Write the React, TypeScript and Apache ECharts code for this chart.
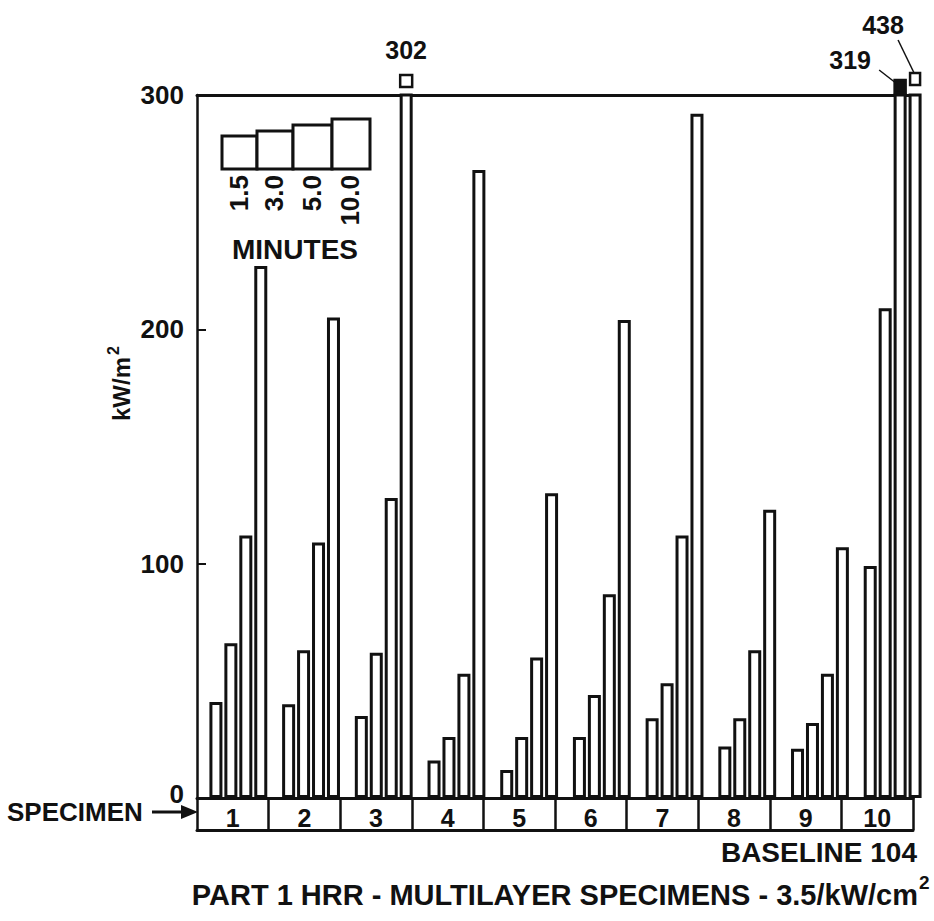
import React, { useEffect, useRef } from "react";
import * as echarts from "echarts";

// ---- data ----
const specimens = ["1", "2", "3", "4", "5", "6", "7", "8", "9", "10"];
const minutes = ["1.5", "3.0", "5.0", "10.0"];
const hrr15 = [41, 40, 35, 16, 12, 26, 34, 22, 21, 99];
const hrr30 = [66, 63, 62, 26, 26, 44, 49, 34, 32, 209];
const hrr50 = [112, 109, 128, 53, 60, 87, 112, 63, 53, 319];
const hrr100 = [227, 205, 302, 268, 130, 204, 292, 123, 107, 438];
const yMin = 0;
const yMax = 300;
const yStep = 100;

const titleText = "PART 1 HRR - MULTILAYER SPECIMENS - 3.5/kW/cm";
const baselineText = "BASELINE 104";
const specimenText = "SPECIMEN";
const unitText = "kW/m";

export default function App() {
  const ref = useRef<HTMLDivElement>(null);

  useEffect(() => {
    if (!ref.current) return;
    const chart = echarts.init(ref.current, null, { renderer: "svg" });
    const ink = "#111";
    const font = "'Liberation Sans', Arial, Helvetica, sans-serif";
    const seriesData = [hrr15, hrr30, hrr50, hrr100];

    chart.setOption({
      animation: false,
      backgroundColor: "#ffffff",
      textStyle: { fontFamily: font },
      grid: [
        { left: 197, right: 21, top: 95, bottom: 123 },
        { left: 202, right: 5, top: 95, bottom: 123 },
      ],
      xAxis: [
        {
          gridIndex: 0,
          type: "category",
          data: specimens,
          position: "bottom",
          axisLine: { lineStyle: { color: ink, width: 3 } },
          axisTick: { show: true, interval: 0, length: 32, lineStyle: { color: ink, width: 2.5 } },
          axisLabel: {
            interval: 0,
            color: ink,
            fontSize: 25,
            fontWeight: "bold",
            fontFamily: font,
            margin: 7,
          },
          splitLine: { show: false },
        },
        {
          gridIndex: 0,
          type: "category",
          data: specimens,
          position: "bottom",
          offset: 32,
          axisLine: { lineStyle: { color: ink, width: 3 } },
          axisTick: { show: false },
          axisLabel: { show: false },
          splitLine: { show: false },
        },
        {
          gridIndex: 0,
          type: "category",
          data: specimens,
          position: "top",
          axisLine: { lineStyle: { color: ink, width: 3 } },
          axisTick: { show: false },
          axisLabel: { show: false },
          splitLine: { show: false },
        },
        { gridIndex: 1, type: "category", data: specimens, show: false },
      ],
      yAxis: [
        {
          gridIndex: 0,
          type: "value",
          min: yMin,
          max: yMax,
          interval: yStep,
          axisLine: { show: true, lineStyle: { color: ink, width: 2.5 } },
          axisTick: { show: true, inside: true, length: 9, lineStyle: { color: ink, width: 2 } },
          axisLabel: {
            color: ink,
            fontSize: 26,
            fontWeight: "bold",
            fontFamily: font,
            margin: 13,
            formatter: (v: number) => (v === 0 ? "{z|0}" : String(v)),
            rich: {
              z: {
                fontSize: 26,
                fontWeight: "bold",
                fontFamily: font,
                color: ink,
                padding: [0, 0, 8, 0],
              },
            },
          },
          splitLine: { show: false },
        },
        {
          gridIndex: 1,
          type: "value",
          min: yMin,
          max: yMax,
          interval: yStep,
          show: false,
          splitLine: { show: false },
        },
      ],
      series: seriesData.map((d, k) => ({
        type: "bar",
        name: minutes[k],
        xAxisIndex: 3,
        yAxisIndex: 1,
        data: d,
        barWidth: 13,
        barGap: "15%",
        clip: true,
        silent: true,
        itemStyle: { color: "#ffffff", borderColor: ink, borderWidth: 3 },
      })),
    });

    // ---- annotations, placed through the chart's own scales ----
    const g: any[] = [];
    const txt = (text: string, x: number, y: number, size: number, align = "left", extra: any = {}) => ({
      type: "text",
      x,
      y,
      z: 100,
      ...extra,
      style: {
        text,
        fill: ink,
        fontSize: size,
        fontWeight: "bold",
        fontFamily: font,
        align,
        verticalAlign: "middle",
      },
    });

    // title & footer texts
    g.push(txt(titleText, 918, 895, 29, "right"));
    g.push(txt("2", 919, 882, 19, "left"));
    g.push(txt(baselineText, 917, 852, 28, "right"));
    g.push(txt(specimenText, 7, 812, 26, "left"));
    g.push({
      type: "line",
      z: 100,
      shape: { x1: 152, y1: 812, x2: 186, y2: 812 },
      style: { stroke: ink, lineWidth: 3 },
    });
    g.push({
      type: "polygon",
      z: 100,
      shape: { points: [[181, 805], [198, 812], [181, 819]] },
      style: { fill: ink },
    });

    // y-axis unit (rotated)
    g.push(txt(unitText, 121, 421, 24, "left", { rotation: Math.PI / 2 }));
    g.push(txt("2", 113, 355, 16, "left", { rotation: Math.PI / 2 }));

    // legend: stepped boxes with rotated minute labels
    const legendBoxes = [
      { x: 222, w: 35, top: 136 },
      { x: 257, w: 36, top: 131 },
      { x: 293, w: 39, top: 125 },
      { x: 332, w: 38, top: 119 },
    ];
    const legendBottom = 169;
    legendBoxes.forEach((b, k) => {
      g.push({
        type: "rect",
        z: 100,
        shape: { x: b.x, y: b.top, width: b.w, height: legendBottom - b.top },
        style: { fill: "#fff", stroke: ink, lineWidth: 3 },
      });
      g.push(txt(minutes[k], b.x + b.w / 2 - 1, 175, 26, "right", { rotation: Math.PI / 2 }));
    });
    g.push(txt("MINUTES", 295, 249, 28, "center"));

    // overflow markers for values above the axis maximum
    const model = (chart as any).getModel();
    const topY = chart.convertToPixel({ yAxisIndex: 1 } as any, yMax) as number;
    const placement: Record<string, any> = {
      "3-2": { lx: 0, ly: -45, sq: [-6, -20, 12, 12], filled: false, leader: null },
      "2-9": { lx: -50, ly: -35, sq: [-5.5, -15, 11, 13], filled: true, leader: [-21, -25, -3, -11] },
      "3-9": { lx: -32, ly: -70, sq: [-5, -22, 10, 12], filled: false, leader: [-17, -55, -1, -22] },
    };
    seriesData.forEach((d, s) => {
      d.forEach((v, i) => {
        if (v <= yMax) return;
        const lay = model.getSeriesByIndex(s).getData().getItemLayout(i);
        const cx = lay.x + lay.width / 2;
        const p = placement[`${s}-${i}`] || { lx: 0, ly: -45, sq: [-6, -20, 12, 12], filled: false, leader: null };
        g.push({
          type: "rect",
          z: 100,
          shape: { x: cx + p.sq[0], y: topY + p.sq[1], width: p.sq[2], height: p.sq[3] },
          style: { fill: p.filled ? ink : "#fff", stroke: ink, lineWidth: 2.5 },
        });
        g.push(txt(String(v), cx + p.lx, topY + p.ly, 25, "center"));
        if (p.leader) {
          g.push({
            type: "line",
            z: 100,
            shape: {
              x1: cx + p.leader[0],
              y1: topY + p.leader[1],
              x2: cx + p.leader[2],
              y2: topY + p.leader[3],
            },
            style: { stroke: ink, lineWidth: 1.5 },
          });
        }
      });
    });

    chart.setOption({ graphic: g });

    return () => chart.dispose();
  }, []);

  return (
    <div
      ref={ref}
      style={{ position: "fixed", left: 0, top: 0, width: 934, height: 921, background: "#fff" }}
    />
  );
}
